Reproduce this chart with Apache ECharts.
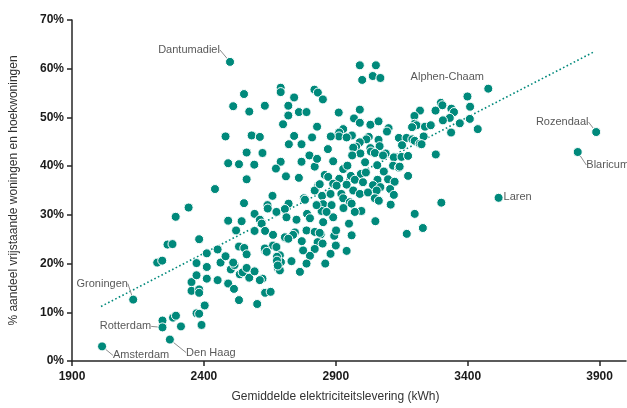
<!DOCTYPE html>
<html><head><meta charset="utf-8">
<script src="https://cdn.jsdelivr.net/npm/echarts@6/dist/echarts.min.js"></script>
<style>html,body{margin:0;padding:0;background:#fff}#c{width:627px;height:408px}</style>
</head><body><div id="c"></div>
<script>
// Gemiddelde elektriciteitslevering (kWh) per gemeente
const elecKwh = [
2691,2691,2552,2742,2511,2631,2720,2572,2720,2760,2789,2700,2482,2581,2612,2742,2722,2770,2562,2622,
2492,2533,2591,2691,2673,2770,2711,2760,2562,2442,2660,2779,2829,2810,2800,2820,2833,2820,2819,2832,
2851,2552,2641,2721,2342,2991,3052,3000,3040,3069,2911,2991,2969,2991,3031,3062,3100,3094,2928,2913,
2912,2961,2881,3025,3016,3062,3139,3168,2941,2991,3151,2977,2966,3031,3033,3066,2870,2993,2962,3048,
3089,3079,3120,3149,2829,3174,3011,2890,3057,2928,2944,3117,3139,2995,3014,3082,2858,2871,2913,2957,
2972,3058,3098,3174,3003,3123,2890,2903,2839,2941,3041,3069,3106,2966,2921,2991,3022,3120,3055,2848,
2880,2928,2953,3048,3063,3108,2852,3399,3298,3304,3409,3219,3278,3338,3348,3198,3332,3306,3408,3199,
3206,3189,3370,3238,3260,3337,3438,3233,3190,3199,3218,3225,3279,3142,3300,3199,3230,3169,3050,2929,
2960,2997,2972,2950,2960,2941,2900,2880,2860,2894,2901,2843,2831,2850,2820,2802,2789,2764,2776,2771,
2884,2890,2852,2789,2820,2839,2791,2802,2846,2865,2827,2783,2293,2262,2281,2223,2242,2382,2243,2283,
2294,2313,2353,2353,2382,2382,2372,2372,2411,2411,2411,2403,2372,2382,2391,2452,2463,2452,2492,2482,
2514,2502,2533,2492,2543,2522,2533,2553,2562,2536,2547,2572,2516,2562,2592,2612,2619,2592,2632,2632,
2592,2602,2622,2612,2632,2653,2662,2642,2675,2707,2713,2662,2675,2688,2692,2681,2688,2732,2751,2745,
2738,2711,2707,2720,2631,2638,2677,2677,2680,2511
];
// % aandeel vrijstaande woningen en hoekwoningen
const pctDetached = [
56.1,55.2,54.8,54.1,52.3,52.4,52.4,51.2,50.4,51.1,51.1,48.6,46.1,46.3,46.0,46.2,44.5,44.5,42.8,42.7,
40.6,40.4,40.3,40.9,39.5,40.9,37.9,37.6,37.3,35.3,33.9,33.4,48.1,45.9,42.2,39.9,36.0,35.0,55.7,55.1,
53.7,32.4,32.0,32.3,31.5,60.7,60.7,57.7,58.5,58.1,51.0,51.6,49.8,48.9,48.5,49.2,47.8,47.1,47.6,46.9,
46.1,46.3,46.1,46.0,45.5,45.4,45.8,45.8,45.9,44.9,44.3,44.0,43.8,43.7,43.0,44.1,43.5,42.6,42.2,42.7,
42.6,42.2,41.8,41.9,41.5,42.1,40.8,41.0,40.2,39.4,40.1,40.1,39.7,38.4,38.7,38.9,38.2,37.8,37.4,38.0,
37.2,37.2,37.3,38.0,36.7,36.8,36.4,36.0,36.3,36.2,36.1,35.7,35.3,35.0,34.3,34.3,34.6,34.1,35.0,33.9,
34.3,33.4,32.6,33.4,32.9,32.1,32.2,54.3,53.0,52.5,52.2,51.4,51.4,51.8,51.1,50.3,49.9,49.4,49.7,48.7,
48.4,48.0,48.8,48.1,48.4,46.9,47.6,46.1,45.5,45.2,44.6,44.5,42.4,39.9,32.5,30.2,27.3,26.1,28.7,31.4,
32.3,30.8,30.6,28.2,25.8,22.6,23.7,22.0,20.0,25.7,26.8,26.0,24.4,24.1,23.0,21.6,20.0,18.3,22.7,24.6,
32.0,29.5,28.5,26.8,26.5,26.3,30.2,29.3,30.8,30.6,32.0,33.1,29.6,23.9,24.0,20.2,20.6,25.0,8.3,8.9,
9.3,7.1,16.2,14.4,14.7,14.0,20.1,17.6,22.1,19.3,16.9,11.4,9.8,9.7,7.4,22.9,20.2,16.6,15.9,21.5,
14.8,18.8,12.5,28.8,28.7,26.8,23.5,23.2,21.9,17.8,18.2,17.1,19.7,19.1,30.2,29.0,28.2,26.7,26.7,22.7,
18.4,11.7,16.9,16.6,14.0,14.2,25.9,31.3,30.6,31.2,29.5,23.7,23.4,21.7,20.3,19.0,18.6,20.5,29.0,26.4,
25.9,25.2,25.4,25.1,23.1,22.4,21.4,20.6,19.6,20.2
];
// Benoemde gemeenten
const namedMunicipalities = ['Dantumadiel','Alphen-Chaam','Rozendaal','Blaricum','Laren','Groningen','Rotterdam','Den Haag','Amsterdam'];
const namedKwh = [2499,3478,3887,3817,3517,2132,2243,2271,2014];
const namedPct = [61.4,55.9,47.0,42.9,33.5,12.6,6.9,4.4,3.0];
// Trendlijn
const trendKwh = [2010,3880];
const trendPct = [11.2,63.5];
// As-labels
const xTickValues = [1900,2400,2900,3400,3900];
const yTickValues = [0,10,20,30,40,50,60,70];

const TEAL = '#00897b';
const labelOffsets = {
  'Dantumadiel':[-41,-12,true],'Alphen-Chaam':[-41,-12,false],'Rozendaal':[-34,-10,true],
  'Blaricum':[30,13,true],'Laren':[19,-1,false],'Groningen':[-31,-16,true],
  'Rotterdam':[-37,-1,true],'Den Haag':[41,13,true],'Amsterdam':[39,9,true]
};

const chart = echarts.init(document.getElementById('c'), null, {renderer:'canvas'});
const pts = elecKwh.map((x,i)=>[x,pctDetached[i]]);
const named = namedMunicipalities.map((n,i)=>({
  name:n, value:[namedKwh[i],namedPct[i]],
  labelLine:{show:labelOffsets[n][2]}
}));
const axisFont = 'Liberation Sans Narrow, Liberation Sans, Arial, sans-serif';

chart.setOption({
  animation:false,
  backgroundColor:'#fff',
  grid:{left:72,right:1,top:20,bottom:45},
  xAxis:{
    type:'value', min:1900, max:4000,
    name:'Gemiddelde elektriciteitslevering (kWh)', nameLocation:'middle', nameGap:30,
    nameTextStyle:{fontFamily:'Liberation Sans, Arial, sans-serif',fontSize:12,color:'#333',padding:[0,27,0,0]},
    axisLine:{show:true,onZero:false,lineStyle:{color:'#262626',width:1.5}},
    axisTick:{show:true,inside:false,length:5,customValues:xTickValues,lineStyle:{color:'#262626',width:1.5}},
    axisLabel:{customValues:xTickValues,formatter:function(v){return String(v);},fontFamily:axisFont,fontWeight:'bold',fontSize:12,color:'#1a1a1a',margin:10},
    splitLine:{show:false}
  },
  yAxis:{
    type:'value', min:0, max:70, interval:10,
    name:'% aandeel vrijstaande woningen en hoekwoningen', nameLocation:'middle', nameGap:52,
    nameTextStyle:{fontFamily:'Liberation Sans, Arial, sans-serif',fontSize:12,color:'#333'},
    axisLine:{show:true,lineStyle:{color:'#262626',width:1.5}},
    axisTick:{show:true,inside:false,length:5,lineStyle:{color:'#262626',width:1.5}},
    axisLabel:{formatter:'{value}%',fontFamily:axisFont,fontWeight:'bold',fontSize:12,color:'#1a1a1a',margin:8},
    splitLine:{show:false}
  },
  series:[
    {
      type:'line', data:trendKwh.map((x,i)=>[x,trendPct[i]]), symbol:'none', z:1,
      lineStyle:{color:TEAL,width:1.6,type:[1.6,2.4]}, silent:true
    },
    {
      type:'scatter', data:pts, symbolSize:9, z:2,
      itemStyle:{color:TEAL,borderColor:'#fff',borderWidth:1,opacity:1}
    },
    {
      type:'scatter', data:named, symbolSize:9, z:3,
      itemStyle:{color:TEAL,borderColor:'#fff',borderWidth:1,opacity:1},
      label:{show:true,position:'inside',formatter:'{b}',fontFamily:'Liberation Sans, Arial, sans-serif',fontSize:11,color:'#595959'},
      labelLine:{show:true,lineStyle:{color:'#8c8c8c',width:1}},
      labelLayout:function(p){const o=labelOffsets[namedMunicipalities[p.dataIndex]];return {dx:o[0],dy:o[1]};}
    }
  ]
});
</script></body></html>
